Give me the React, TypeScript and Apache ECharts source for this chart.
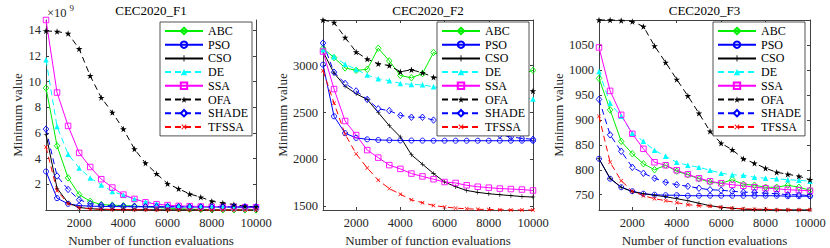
import React, { useEffect, useRef } from 'react';
import * as echarts from 'echarts';

const evaluations = [500, 1000, 1500, 2000, 2500, 3000, 3500, 4000, 4500, 5000, 5500, 6000, 6500, 7000, 7500, 8000, 8500, 9000, 9500, 10000];
const xTicks = [2000, 4000, 6000, 8000, 10000];
const algorithms = ['ABC', 'PSO', 'CSO', 'DE', 'SSA', 'OFA', 'SHADE', 'TFSSA'];
const titles = ['CEC2020_F1', 'CEC2020_F2', 'CEC2020_F3'];

// CEC2020_F1, values in units of 1e9
const f1ABC = [9.5, 5.0, 2.5, 1.2, 0.68, 0.42, 0.38, 0.34, 0.3, 0.26, 0.2, 0.15, 0.1, 0.07, 0.05, 0.03, 0.02, 0.01, 0.01, 0.0];
const f1PSO = [3.0, 0.92, 0.48, 0.34, 0.3, 0.28, 0.27, 0.26, 0.25, 0.25, 0.24, 0.24, 0.24, 0.23, 0.23, 0.23, 0.23, 0.22, 0.22, 0.22];
const f1CSO = [5.9, 1.7, 0.55, 0.2, 0.1, 0.06, 0.04, 0.03, 0.02, 0.02, 0.01, 0.01, 0.01, 0.01, 0.0, 0.0, 0.0, 0.0, 0.0, 0.0];
const f1DE = [11.7, 6.5, 4.35, 3.27, 2.5, 1.95, 1.45, 1.15, 0.85, 0.65, 0.5, 0.4, 0.33, 0.28, 0.25, 0.22, 0.2, 0.18, 0.17, 0.16];
const f1SSA = [14.8, 9.15, 6.55, 4.45, 3.35, 2.4, 1.75, 1.2, 0.86, 0.6, 0.45, 0.38, 0.32, 0.3, 0.27, 0.25, 0.24, 0.23, 0.22, 0.22];
const f1OFA = [13.95, 13.9, 13.75, 12.55, 10.45, 8.75, 7.6, 6.3, 4.75, 3.65, 2.83, 2.05, 1.65, 1.25, 1.0, 0.68, 0.54, 0.42, 0.3, 0.25];
const f1SHADE = [6.3, 2.65, 1.6, 0.8, 0.5, 0.38, 0.33, 0.3, 0.28, 0.27, 0.26, 0.26, 0.25, 0.25, 0.25, 0.24, 0.24, 0.24, 0.24, 0.24];
const f1TFSSA = [4.9, 1.5, 0.5, 0.18, 0.08, 0.05, 0.04, 0.03, 0.02, 0.02, 0.01, 0.01, 0.01, 0.01, 0.01, 0.0, 0.0, 0.0, 0.0, 0.0];

// CEC2020_F2
const f2ABC = [3185, 3085, 2975, 2950, 2960, 3185, 3050, 2895, 2870, 2915, 3140, 3090, 3050, 3000, 2960, 2930, 2915, 2905, 2910, 2950];
const f2PSO = [3010, 2460, 2280, 2230, 2215, 2208, 2205, 2203, 2202, 2201, 2200, 2200, 2200, 2200, 2200, 2200, 2200, 2200, 2200, 2200];
const f2CSO = [3150, 2920, 2780, 2700, 2640, 2500, 2360, 2240, 2050, 1950, 1850, 1760, 1710, 1670, 1650, 1635, 1625, 1615, 1605, 1600];
const f2DE = [3170, 3095, 3015, 2960, 2900, 2860, 2840, 2810, 2800, 2795, 2775, 2760, 2745, 2730, 2715, 2700, 2690, 2675, 2660, 2645];
const f2SSA = [3150, 2750, 2410, 2260, 2100, 2020, 1940, 1900, 1850, 1820, 1790, 1760, 1750, 1725, 1710, 1700, 1690, 1685, 1680, 1670];
const f2OFA = [3486, 3460, 3300, 3145, 3070, 3020, 3000, 2935, 2955, 2925, 2875, 2860, 2840, 2820, 2800, 2790, 2775, 2760, 2745, 2730];
const f2SHADE = [3240, 2930, 2810, 2730, 2640, 2540, 2520, 2470, 2450, 2450, 2420, 2400, 2380, 2350, 2320, 2290, 2260, 2240, 2225, 2215];
const f2TFSSA = [2945, 2600, 2270, 2060, 1910, 1780, 1690, 1630, 1570, 1540, 1510, 1495, 1482, 1475, 1470, 1467, 1465, 1463, 1462, 1462];

// CEC2020_F3
const f3ABC = [983, 920, 857, 832, 812, 800, 809, 797, 790, 782, 775, 773, 780, 771, 769, 765, 765, 769, 765, 759];
const f3PSO = [822, 782, 765, 757, 752, 750, 749, 749, 748, 748, 748, 748, 748, 748, 748, 748, 748, 747, 747, 747];
const f3CSO = [822, 783, 765, 756, 752, 749, 746, 742, 738, 733, 728, 725, 723, 721, 720, 720, 719.5, 719.5, 719.5, 719.5];
const f3DE = [997, 933, 907, 873, 857, 839, 827, 815, 809, 805, 799, 793, 790, 789, 785, 783, 782, 780, 779, 777];
const f3SSA = [1045, 958, 910, 872, 842, 815, 809, 799, 791, 783, 777, 773, 770, 768, 765, 763, 762, 760, 759, 758];
const f3OFA = [1100, 1100, 1099, 1097, 1087, 1048, 1015, 981, 948, 913, 877, 853, 840, 822, 813, 803, 795, 791, 787, 780];
const f3SHADE = [941, 870, 837, 805, 793, 783, 775, 770, 767, 763, 760, 759, 757, 755, 755, 753, 752, 750, 750, 748];
const f3TFSSA = [907, 815, 778, 757, 748, 742, 738, 734, 730, 728, 727, 725, 723, 722, 721, 721, 720, 720, 720, 720];

const f1Ticks = [2, 4, 6, 8, 10, 12, 14];
const f2Ticks = [1500, 2000, 2500, 3000];
const f3Ticks = [750, 800, 850, 900, 950, 1000, 1050];
const yRanges = [[0, 14.8], [1462, 3486], [719.4, 1100]];

const panelData = [
  [f1ABC, f1PSO, f1CSO, f1DE, f1SSA, f1OFA, f1SHADE, f1TFSSA],
  [f2ABC, f2PSO, f2CSO, f2DE, f2SSA, f2OFA, f2SHADE, f2TFSSA],
  [f3ABC, f3PSO, f3CSO, f3DE, f3SSA, f3OFA, f3SHADE, f3TFSSA],
];
const panelTicks = [f1Ticks, f2Ticks, f3Ticks];

const STAR = 'path://M0,-100L22,-31L95,-31L36,12L59,81L0,38L-59,81L-36,12L-95,-31L-22,-31Z';
const PLUS = 'path://M-0.8,-6H0.8V-0.8H6V0.8H0.8V6H-0.8V0.8H-6V-0.8H-0.8Z';

const styles: Record<string, any> = {
  ABC: { color: '#00ee00', dash: false, symbol: 'diamond', size: [5.5, 6.5], hollow: true },
  PSO: { color: '#0000ff', dash: false, symbol: 'circle', size: 5, hollow: true },
  CSO: { color: '#000000', dash: false, symbol: PLUS, size: 4.5, hollow: false },
  DE: { color: '#00ffff', dash: true, symbol: 'triangle', size: 5.5, hollow: false },
  SSA: { color: '#ff00ff', dash: false, symbol: 'rect', size: 5.5, hollow: true },
  OFA: { color: '#000000', dash: true, symbol: STAR, size: 6.5, hollow: false },
  SHADE: { color: '#0000ff', dash: true, symbol: 'diamond', size: [5.5, 6.5], hollow: true },
  TFSSA: { color: '#ff0000', dash: true, symbol: PLUS, size: 5, hollow: false, rotate: 45 },
};

const grids = [
  { left: 46, top: 20, width: 210, height: 190 },
  { left: 323, top: 20, width: 210, height: 190 },
  { left: 599, top: 20, width: 211, height: 190 },
];
const legendLeft = [160, 437, 713];
const yNameGap = [22, 34, 33];

const FONT = 'Liberation Serif';
const AXIS_COLOR = '#404040';
const plain = (v: number) => String(v);

function buildOption() {
  const xAxis: any[] = [];
  const yAxis: any[] = [];
  const series: any[] = [];
  const legend: any[] = [];
  const graphic: any[] = [];

  grids.forEach((g, p) => {
    const axisLine = { show: true, lineStyle: { color: AXIS_COLOR, width: 1 } };
    const tick = { show: true, inside: true, length: 3, lineStyle: { color: AXIS_COLOR, width: 1 } };
    xAxis.push({
      type: 'value', gridIndex: p, position: 'bottom', min: 500, max: 10000,
      axisLine, splitLine: { show: false },
      axisTick: { ...tick, customValues: xTicks },
      axisLabel: { customValues: xTicks, formatter: plain, color: '#262626', fontFamily: FONT, fontSize: 12.5, margin: 6 },
      name: 'Number of function evaluations', nameLocation: 'middle', nameGap: 20,
      nameTextStyle: { color: '#262626', fontFamily: FONT, fontSize: 13 },
    });
    xAxis.push({
      type: 'value', gridIndex: p, position: 'top', min: 500, max: 10000,
      axisLine, splitLine: { show: false },
      axisTick: { ...tick, customValues: xTicks },
      axisLabel: { show: false },
    });
    const [ymin, ymax] = yRanges[p];
    yAxis.push({
      type: 'value', gridIndex: p, position: 'left', min: ymin, max: ymax,
      axisLine, splitLine: { show: false },
      axisTick: { ...tick, customValues: panelTicks[p] },
      axisLabel: { customValues: panelTicks[p], formatter: plain, color: '#262626', fontFamily: FONT, fontSize: 12.5, margin: 5 },
      name: 'Minimum value', nameLocation: 'middle', nameGap: yNameGap[p],
      nameTextStyle: { color: '#262626', fontFamily: FONT, fontSize: 13 },
    });
    yAxis.push({
      type: 'value', gridIndex: p, position: 'right', min: ymin, max: ymax,
      axisLine, splitLine: { show: false },
      axisTick: { ...tick, customValues: panelTicks[p] },
      axisLabel: { show: false },
    });

    algorithms.forEach((name, i) => {
      const s = styles[name];
      const vals = panelData[p][i];
      series.push({
        type: 'line', name, xAxisIndex: p * 2, yAxisIndex: p * 2,
        data: evaluations.map((x, k) => [x, vals[k]]),
        symbol: s.symbol, symbolSize: s.size, symbolRotate: s.rotate || 0,
        showSymbol: true, showAllSymbol: true, clip: false,
        lineStyle: { color: s.color, width: 1, type: s.dash ? [6, 4] : 'solid' },
        itemStyle: s.hollow
          ? { color: 'rgba(255,255,255,0)', borderColor: s.color, borderWidth: 0.9 }
          : { color: s.color, borderWidth: 0 },
        emphasis: { disabled: true },
        silent: true,
      });
    });

    legend.push({
      data: algorithms, orient: 'vertical', left: legendLeft[p], top: 22,
      itemWidth: 38, itemHeight: 8, itemGap: 1.7, itemTextGap: 3,
      padding: [3, 4, 3, 4],
      backgroundColor: '#ffffff', borderColor: '#262626', borderWidth: 0.8, borderRadius: 0,
      textStyle: { color: '#000', fontFamily: FONT, fontSize: 12, lineHeight: 12 },
      selectedMode: false,
    });

    graphic.push({
      type: 'text', x: g.left + g.width / 2, y: 10,
      style: { text: titles[p], fill: '#000', fontFamily: FONT, fontSize: 13, align: 'center', verticalAlign: 'middle' },
    });
  });

  graphic.push({
    type: 'text', x: 47, y: 13,
    style: { text: '×10', fill: '#262626', fontFamily: FONT, fontSize: 12.5, align: 'left', verticalAlign: 'middle' },
  });
  graphic.push({
    type: 'text', x: 69.5, y: 8,
    style: { text: '9', fill: '#262626', fontFamily: FONT, fontSize: 9, align: 'left', verticalAlign: 'middle' },
  });

  return {
    animation: false,
    backgroundColor: '#ffffff',
    textStyle: { fontFamily: FONT },
    grid: grids.map((g) => ({ ...g, containLabel: false, outerBoundsMode: 'none' })),
    xAxis, yAxis, series, legend, graphic,
  };
}

export default function App() {
  const ref = useRef<HTMLDivElement>(null);
  useEffect(() => {
    if (!ref.current) return;
    const chart = echarts.init(ref.current, undefined, { renderer: 'svg' });
    chart.setOption(buildOption() as any);
    return () => chart.dispose();
  }, []);
  return (
    <div
      ref={ref}
      style={{ position: 'fixed', left: 0, top: 0, width: 830, height: 248, background: '#fff' }}
    />
  );
}
